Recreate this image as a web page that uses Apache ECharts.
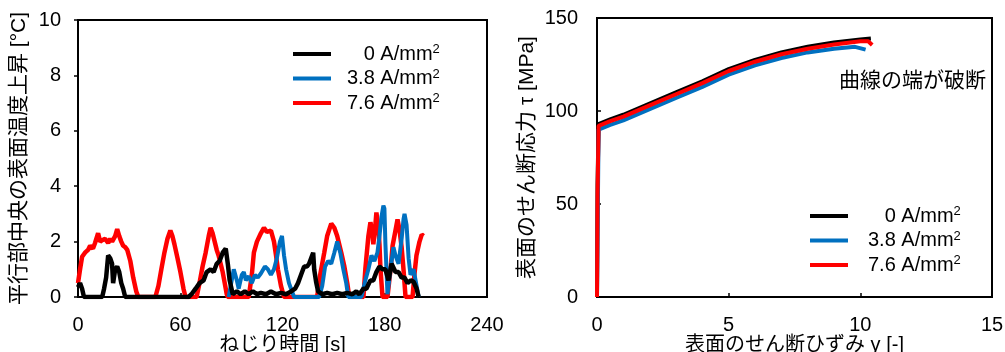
<!DOCTYPE html>
<html>
<head>
<meta charset="utf-8">
<script src="https://cdn.jsdelivr.net/npm/echarts@6/dist/echarts.min.js"></script>
<style>
  html, body { margin: 0; padding: 0; background: #fff; }
  #chart { width: 1005px; height: 352px; }
</style>
</head>
<body>
<div id="chart"></div>
<script>
// 凡例
const seriesNames = ['0 A/mm', '3.8 A/mm', '7.6 A/mm'];
const seriesColors = ['#000000', '#0070c0', '#ff0000'];

// 左: 温度上昇 vs ねじり時間
const timeTicks = [0, 60, 120, 180, 240];
const tempTicks = [0, 2, 4, 6, 8, 10];

const time0 = [0, 1.2, 2.4, 3.5, 14.2, 15.3, 16.5, 17.7, 18.9, 20.0, 20.6, 21.8, 23.0, 24.2, 25.4, 26.5, 27.7,
  64.9, 66.6, 69.0, 71.3, 73.7, 75.5, 77.8, 79.6, 81.4, 83.1, 84.9, 86.7, 87.9, 89.0, 90.8, 93.2, 95.5, 97.9,
  100.2, 102.6, 105.0, 107.3, 110.3, 113.2, 116.2, 119.1, 122.1, 125.0, 127.4, 129.1, 130.9, 132.7, 134.4,
  135.6, 136.8, 138.0, 138.6, 139.7, 140.9, 143.3, 146.2, 149.2, 152.1, 155.1, 158.0, 161.0, 163.3, 165.1,
  167.5, 169.2, 171.6, 173.3, 175.1, 176.9, 178.7, 180.4, 182.2, 184.0, 186.3, 188.1, 189.9, 191.6, 193.4,
  195.2, 196.9, 198.7, 199.9];
const temp0 = [0.35, 0.5, 0.3, 0, 0, 0.3, 0.7, 1.5, 1.4, 1.2, 0.5, 1.0, 1.1, 0.9, 0.5, 0.3, 0,
  0, 0.1, 0.3, 0.5, 0.6, 0.9, 1.0, 0.9, 1.2, 1.3, 1.6, 1.75, 1.2, 0.6, 0.1, 0.2, 0.1, 0.2,
  0.1, 0.2, 0.1, 0.15, 0.1, 0.2, 0.1, 0.15, 0.1, 0.2, 0.3, 0.5, 0.8, 1.1, 1.1,
  1.2, 1.4, 1.6, 1.0, 0.55, 0.2, 0.1, 0.15, 0.1, 0.15, 0.1, 0.15, 0.1, 0.2, 0.1,
  0.3, 0.3, 0.6, 0.6, 0.9, 1.1, 1.0, 1.0, 0.6, 1.2, 0.9, 0.9, 0.7, 0.7, 0.5,
  0.6, 0.55, 0.3, 0];

const time38 = [88.4, 89.6, 91.4, 93.2, 94.3, 96.1, 97.3, 98.5, 100.2, 102.0, 103.8, 105.5, 107.3, 109.7,
  111.4, 113.2, 115.0, 116.7, 118.5, 119.7, 120.9, 122.1, 123.8, 125.6, 126.8, 141.5, 143.3, 145.0, 146.8,
  148.6, 150.4, 152.1, 153.9, 155.7, 157.4, 158.6, 166.3, 168.6, 170.4, 172.2, 173.9, 175.7, 176.9, 178.1,
  179.2, 179.8, 180.4, 181.6, 183.4, 185.1, 186.3, 188.1, 189.9, 191.0, 191.6, 192.8, 194.0, 195.1, 196.9,
  198.7, 199.9];
const temp38 = [0, 0.4, 1.0, 0.6, 0.3, 0.8, 0.9, 0.6, 0.75, 0.5, 0.8, 0.7, 0.85, 1.1,
  1.0, 0.8, 1.0, 1.4, 2.0, 2.2, 1.5, 1.0, 0.5, 0.2, 0, 0, 0.4, 1.1, 1.3,
  1.2, 1.6, 2.0, 1.6, 1.0, 0.5, 0, 0, 0.6, 1.0, 1.5, 1.3, 1.6, 2.2, 2.9,
  3.3, 3.2, 1.9, 0.1, 1.0, 1.8, 1.5, 1.2, 2.1, 2.8, 3.0, 2.6, 1.4, 0.8, 1.0,
  0.4, 0];

const time76 = [0, 1.2, 2.4, 4.1, 5.9, 7.1, 8.8, 10.0, 11.8, 13.0, 14.2, 15.9, 17.7, 18.9, 20.0, 21.8, 23.0,
  24.2, 25.4, 26.5, 27.7, 28.9, 30.7, 32.4, 34.2, 35.4, 45.4, 47.2, 48.9, 50.7, 52.5, 54.2, 55.4, 56.6,
  58.4, 60.1, 61.9, 63.1, 69.6, 71.3, 73.1, 74.9, 76.7, 77.8, 79.0, 80.2, 81.4, 82.5, 83.7, 84.9, 86.1,
  87.3, 87.9, 100.2, 102.0, 103.2, 105.0, 107.3, 109.1, 110.8, 113.2, 115.0, 116.2, 117.3, 119.1, 120.9,
  140.3, 142.1, 144.5, 146.2, 148.6, 150.4, 152.1, 154.5, 156.3, 158.0, 159.2, 167.5, 168.6, 170.4, 171.6,
  172.8, 173.3, 174.5, 175.1, 176.3, 176.9, 177.5, 178.7, 181.6, 183.4, 184.6, 186.3, 187.5, 188.7, 189.9,
  191.0, 192.2, 196.3, 197.4, 198.6, 200.4, 201.7, 202.8];
const temp76 = [0.5, 1.0, 1.45, 1.6, 1.7, 1.85, 1.75, 1.95, 2.3, 2.0, 2.05, 2.1, 1.95, 2.1, 2.0, 2.2, 2.45,
  2.2, 2.0, 1.85, 1.8, 1.7, 1.3, 0.7, 0.2, 0, 0, 0.4, 1.0, 1.6, 2.1, 2.4, 2.2, 1.9,
  1.4, 0.9, 0.3, 0, 0, 0.5, 1.1, 1.6, 2.2, 2.5, 2.3, 2.0, 1.7, 1.5, 1.2, 0.9, 0.5,
  0.1, 0, 0, 0.8, 1.6, 2.0, 2.3, 2.5, 2.35, 2.4, 2.0, 1.5, 1.0, 0.4, 0,
  0, 0.8, 1.6, 2.2, 2.65, 2.5, 2.2, 1.6, 1.1, 0.5, 0, 0, 1.0, 2.2, 2.7,
  2.3, 1.9, 2.6, 3.05, 2.5, 1.9, 1.0, 0, 0, 1.0, 1.85, 2.4, 2.8, 2.4, 1.8,
  1.0, 0, 0, 0.8, 1.5, 2.0, 2.25, 2.2];

// 右: せん断応力 vs せん断ひずみ
const strainTicks = [0, 5, 10, 15];
const stressTicks = [0, 50, 100, 150];

const strain0 = [0, 0.02, 0.06, 0.5, 1, 2, 3, 4, 5, 6, 7, 8, 9, 10, 10.4];
const stress0 = [0, 60, 93, 95.5, 98, 104, 110, 116, 122.5, 127.5, 131.5, 134.5, 136.8, 138.5, 139];
const strain38 = [0, 0.02, 0.06, 0.5, 1, 2, 3, 4, 5, 6, 7, 8, 9, 9.8, 10.2];
const stress38 = [0, 30, 90, 92.5, 95, 101, 107, 113, 119.5, 124.5, 128.5, 131.5, 133.5, 134.5, 133];
const strain76 = [0, 0.02, 0.06, 0.5, 1, 2, 3, 4, 5, 6, 7, 8, 9, 10, 10.3, 10.45];
const stress76 = [0, 55, 92, 94.5, 97, 103, 109, 115, 121.5, 126.5, 130.5, 133.5, 135.8, 137.5, 137.5, 135.5];

const zip = (xs, ys) => xs.map((x, i) => [x, ys[i]]);

const font = '"Liberation Sans", Arial, "Noto Sans CJK JP", sans-serif';
const jpFont = '"Liberation Sans", "Noto Sans CJK JP", sans-serif';

const chart = echarts.init(document.getElementById('chart'), null, { renderer: 'canvas' });

// 凡例テキスト（右寄せはスペースで、上付き 2 は rich で）
function legendText(padLeft) {
  return {
    fontFamily: font,
    color: '#000',
    rich: {
      v: { fontSize: 20, lineHeight: 22, padding: [0, 0, 0, padLeft], fontFamily: font, color: '#000' },
      s: { fontSize: 13, lineHeight: 13, verticalAlign: 'top', fontFamily: font, color: '#000' }
    }
  };
}
const legendFormat = name => '{v|' + (name === '0 A/mm' ? '   0 A/mm' : name) + '}{s|2}';

function axisBase(min, max, interval, name, nameGap, nameSize, tickInside, labelMargin) {
  return {
    type: 'value',
    min, max, interval,
    name,
    nameLocation: 'middle',
    nameGap,
    nameMoveOverlap: false,
    nameTextStyle: { fontFamily: jpFont, fontSize: nameSize, color: '#000' },
    axisLine: { show: true, onZero: false, lineStyle: { color: '#000', width: 2 } },
    axisTick: { show: true, inside: tickInside, length: 4, lineStyle: { color: '#000', width: 1.5 } },
    axisLabel: { fontFamily: font, fontSize: 20, color: '#000', margin: labelMargin },
    splitLine: { show: false }
  };
}

function lineSeries(name, color, data, xi, z, width) {
  return {
    name, type: 'line', data,
    xAxisIndex: xi, yAxisIndex: xi,
    showSymbol: false, symbol: 'none',
    z,
    lineStyle: { color, width },
    itemStyle: { color },
    emphasis: { disabled: true }
  };
}

const option = {
  animation: false,
  backgroundColor: '#fff',
  title: {
    text: '曲線の端が破断',
    left: 834, top: 66,
    textStyle: { fontFamily: jpFont, fontSize: 21, fontWeight: 'normal', color: '#000' }
  },
  grid: [
    { left: 78, right: 518, top: 20, bottom: 55, show: true, borderColor: '#000', borderWidth: 2, outerBoundsMode: 'none' },
    { left: 597, right: 13, top: 18, bottom: 55, show: true, borderColor: '#000', borderWidth: 2, outerBoundsMode: 'none' }
  ],
  legend: [
    {
      data: seriesNames, orient: 'vertical', left: 288, top: 38,
      itemWidth: 38, itemHeight: 4, itemGap: 3.5, icon: 'rect',
      formatter: legendFormat, textStyle: legendText(11), selectedMode: false
    },
    {
      data: seriesNames, orient: 'vertical', left: 805, top: 200,
      itemWidth: 38, itemHeight: 4, itemGap: 3.5, icon: 'rect',
      formatter: legendFormat, textStyle: legendText(15), selectedMode: false
    }
  ],
  xAxis: [
    Object.assign(axisBase(timeTicks[0], timeTicks[timeTicks.length - 1], 60, 'ねじり時間 [s]', 38, 20, true, 18), { gridIndex: 0 }),
    Object.assign(axisBase(strainTicks[0], strainTicks[strainTicks.length - 1], 5, '表面のせん断ひずみ γ [-]', 38, 20, true, 18), { gridIndex: 1 })
  ],
  yAxis: [
    Object.assign(axisBase(tempTicks[0], tempTicks[tempTicks.length - 1], 2, '平行部中央の表面温度上昇 [°C]', 48, 21, false, 17), { gridIndex: 0 }),
    Object.assign(axisBase(stressTicks[0], stressTicks[stressTicks.length - 1], 50, '表面のせん断応力 τ [MPa]', 59, 21, true, 19), { gridIndex: 1 })
  ],
  series: [
    lineSeries(seriesNames[2], seriesColors[2], zip(time76, temp76), 0, 2, 4.5),
    lineSeries(seriesNames[1], seriesColors[1], zip(time38, temp38), 0, 3, 4),
    lineSeries(seriesNames[0], seriesColors[0], zip(time0, temp0), 0, 4, 4.5),
    lineSeries(seriesNames[0], seriesColors[0], zip(strain0, stress0), 1, 2, 4),
    lineSeries(seriesNames[1], seriesColors[1], zip(strain38, stress38), 1, 3, 4),
    lineSeries(seriesNames[2], seriesColors[2], zip(strain76, stress76), 1, 4, 4)
  ]
};

chart.setOption(option);
</script>
</body>
</html>
